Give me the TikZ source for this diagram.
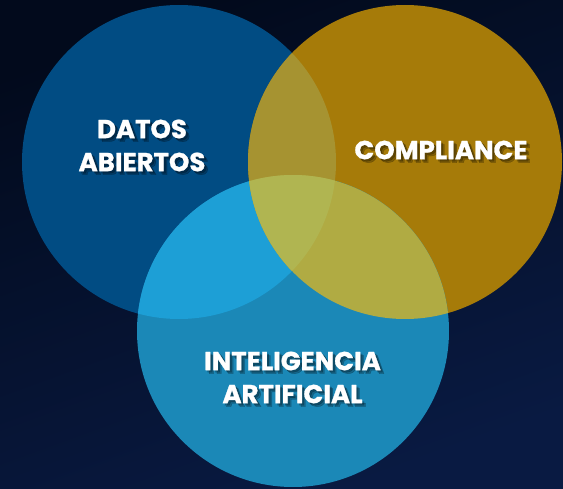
\documentclass[tikz,border=0pt]{standalone}
\usepackage{fontspec}
\setmainfont{Poppins}
\definecolor{bgtop}{HTML}{020A1C}
\definecolor{bgbot}{HTML}{091A42}
\definecolor{cL}{HTML}{014C83}
\definecolor{cR}{HTML}{A67B09}
\definecolor{cB}{HTML}{1B88B7}
\definecolor{cLB}{HTML}{1D9FD6}
\definecolor{cLR}{HTML}{A69331}
\definecolor{cRB}{HTML}{B0AB43}
\definecolor{cLRB}{HTML}{B0B551}
\tikzset{
  lbl/.style={text=white, align=center, inner sep=0pt, font=\bfseries\addfontfeatures{FakeBold=1}\fontsize{26}{33}\selectfont},
  shd/.style={lbl, text=black, text opacity=0.25},
}
\begin{document}
\begin{tikzpicture}[x=1pt,y=1pt]
\useasboundingbox (0,0) rectangle (563,488);
\shade[shading=axis, top color=bgtop, bottom color=bgbot, shading angle=20] (0,0) rectangle (563,488);
\def\Lc{(179,326) circle[radius=157]}
\def\Rc{(405,326) circle[radius=157]}
\def\Bc{(293,157) circle[radius=156]}
\fill[cL] \Lc;
\fill[cR] \Rc;
\fill[cB] \Bc;
\begin{scope}\clip \Lc; \fill[cLB] \Bc; \fill[cLR] \Rc; \end{scope}
\begin{scope}\clip \Rc; \fill[cRB] \Bc; \end{scope}
\begin{scope}\clip \Lc; \clip \Rc; \fill[cLRB] \Bc; \end{scope}
% shadows
\foreach \d [count=\i] in {2,3.5}{
  \node[shd] (sa\i) at (142+\d,342.5-\d) {DATOS\\ABIERTOS};
  \node[shd] (sb\i) at (441+\d,338-\d) {COMPLIANCE};
  \node[shd] (sc\i) at (292.5+\d,110.5-\d) {INTELIGENCIA\\ARTIFICIAL};
}
\node[lbl] (datos) at (142,342.5) {DATOS\\ABIERTOS};
\node[lbl] (comp) at (441,338) {COMPLIANCE};
\node[lbl] (ia) at (292.5,110.5) {INTELIGENCIA\\ARTIFICIAL};
\end{tikzpicture}
\end{document}
